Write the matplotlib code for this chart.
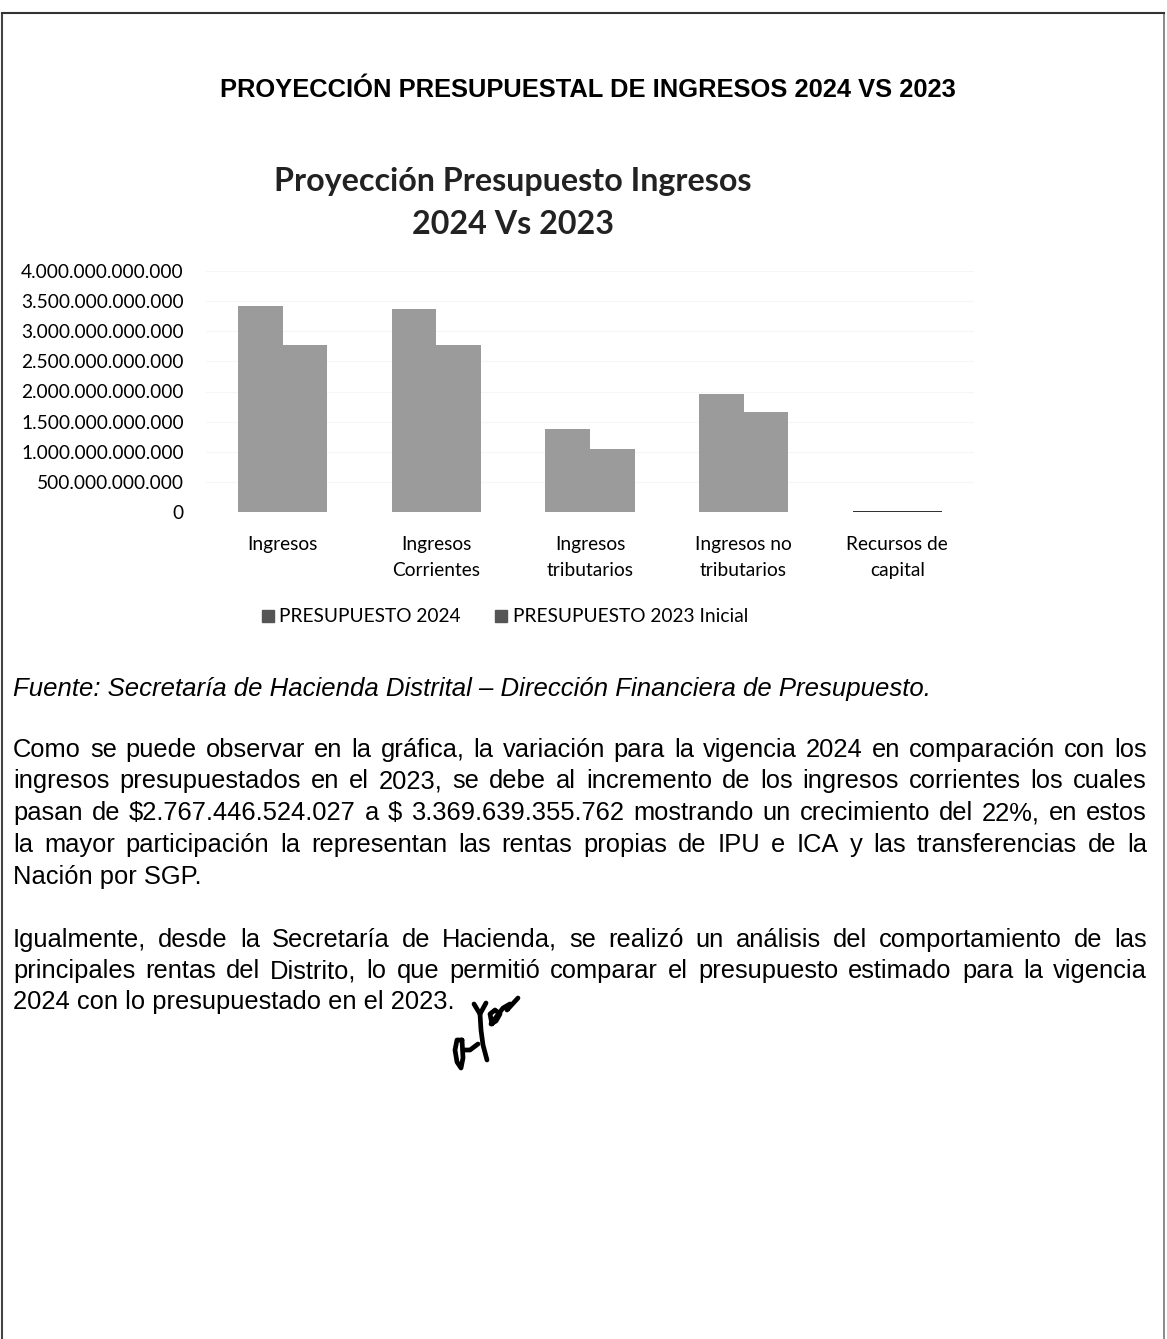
import numpy as np
import matplotlib
matplotlib.use("Agg")
import matplotlib.pyplot as plt
from matplotlib.ticker import FuncFormatter

plt.rcParams["font.family"] = "Liberation Sans"

# datos
categorias = ["Ingresos", "Ingresos\nCorrientes", "Ingresos\ntributarios",
              "Ingresos no\ntributarios", "Recursos de\ncapital"]
presupuesto_2024 = [3.42e12, 3.37e12, 1.38e12, 1.96e12, 0.02e12]
presupuesto_2023 = [2.78e12, 2.767e12, 1.05e12, 1.66e12, 0.02e12]
series = ["PRESUPUESTO 2024", "PRESUPUESTO 2023 Inicial"]

W, H = 1167, 1339
fig = plt.figure(figsize=(W / 100, H / 100), dpi=100)
fig.patch.set_facecolor("white")


def fx(px):
    return px / W


def fy(py):
    return 1 - py / H


# borde de la hoja escaneada
fig.add_artist(plt.Line2D([fx(2), fx(2)], [fy(14), fy(1339)], color="#444", lw=1.5))
fig.add_artist(plt.Line2D([fx(1164), fx(1164)], [fy(14), fy(1339)], color="#777", lw=1.2))
fig.add_artist(plt.Line2D([fx(2), fx(1164)], [fy(13), fy(13)], color="#333", lw=1.5))

fig.text(fx(588), fy(90), "PROYECCIÓN PRESUPUESTAL DE INGRESOS 2024 VS 2023",
         weight="bold", fontsize=18.4, ha="center", va="center")

# grafica
ax = fig.add_axes([fx(206), fy(512), fx(974) - fx(206), fy(271) - fy(512)])
x = np.arange(len(categorias))
w = 0.29
colores = ["#9b9b9b"] * (len(categorias) - 1) + ["#333333"]
ax.bar(x - w / 2, presupuesto_2024, w, color=colores, label=series[0])
ax.bar(x + w / 2, presupuesto_2023, w, color=colores, label=series[1])
ax.set_ylim(0, 4e12)
ax.set_xlim(-0.5, len(categorias) - 0.5)
ax.set_yticks(np.arange(0, 4.01e12, 0.5e12))
ax.yaxis.set_major_formatter(FuncFormatter(lambda v, p: f"{v:,.0f}".replace(",", ".")))
ax.set_xticks(x)
ax.set_xticklabels(categorias, family="Lato", fontsize=13.8, linespacing=1.7)
for lab in ax.get_yticklabels():
    lab.set_family("Lato")
    lab.set_fontsize(13.8)
ax.tick_params(length=0, pad=16)
ax.tick_params(axis="x", pad=17)
ax.grid(axis="y", color="#f6f6f6", lw=0.8)
ax.set_axisbelow(True)
for s in ax.spines.values():
    s.set_visible(False)

fig.text(fx(513), fy(182), "Proyección Presupuesto Ingresos", family="Lato",
         weight="bold", fontsize=23.2, ha="center", va="center", color="#222")
fig.text(fx(513), fy(224), "2024 Vs 2023", family="Lato",
         weight="bold", fontsize=23.2, ha="center", va="center", color="#222")

leg = fig.legend(loc="center", bbox_to_anchor=(fx(505), fy(617)), ncol=2, frameon=False,
                 prop={"family": "Lato", "size": 13.8}, handlelength=0.6, handleheight=0.6,
                 handletextpad=0.3, columnspacing=1.8)
for h in leg.legend_handles:
    h.set_color("#555")

# texto (y = linea base)
fig.text(fx(13), fy(696), "Fuente: Secretaría de Hacienda Distrital – Dirección Financiera de Presupuesto.",
         style="italic", fontsize=18.5, va="baseline")

par1 = ["Como se puede observar en la gráfica, la variación para la vigencia 2024 en comparación con los",
        "ingresos presupuestados en el 2023, se debe al incremento de los ingresos corrientes los cuales",
        "pasan de $2.767.446.524.027 a $ 3.369.639.355.762 mostrando un crecimiento del 22%, en estos",
        "la mayor participación la representan las rentas propias de IPU e ICA y las transferencias de la",
        "Nación por SGP."]
par2 = ["Igualmente, desde la Secretaría de Hacienda, se realizó un análisis del comportamiento de las",
        "principales rentas del Distrito, lo que permitió comparar el presupuesto estimado para la vigencia",
        "2024 con lo presupuestado en el 2023."]

renderer = fig.canvas.get_renderer()


def linea(texto, y, justificar):
    if not justificar:
        fig.text(fx(13), fy(y), texto, fontsize=18.4, va="baseline")
        return
    palabras = texto.split(" ")
    objs = [fig.text(0, fy(y), p, fontsize=18.4, va="baseline") for p in palabras]
    anchos = [o.get_window_extent(renderer).width for o in objs]
    hueco = (1147 - 13 - sum(anchos)) / (len(palabras) - 1)
    pos = 13
    for o, a in zip(objs, anchos):
        o.set_x(fx(pos))
        pos += a + hueco


ys1 = [757, 788, 820, 852, 884]
for i, t in enumerate(par1):
    linea(t, ys1[i], i < len(par1) - 1)
ys2 = [947, 978, 1009]
for i, t in enumerate(par2):
    linea(t, ys2[i], i < len(par2) - 1)

# rubrica a mano
trazos = [([474, 480, 486], [1004, 1014, 1003]),
          ([480, 481, 483, 487], [1014, 1030, 1045, 1060]),
          ([478, 470, 463], [1044, 1050, 1050]),
          ([462, 457, 455, 457, 461, 463, 462], [1040, 1040, 1050, 1062, 1068, 1058, 1040]),
          ([492, 490, 495, 500, 496, 491, 503, 510, 507, 518], [1024, 1014, 1010, 1014, 1021, 1024, 1008, 1004, 1010, 998])]
for tx, ty in trazos:
    fig.add_artist(plt.Line2D([fx(v) for v in tx], [fy(v) for v in ty], color="black",
                              lw=3.4, solid_capstyle="round", solid_joinstyle="round"))

fig.savefig("out.png", dpi=100)
